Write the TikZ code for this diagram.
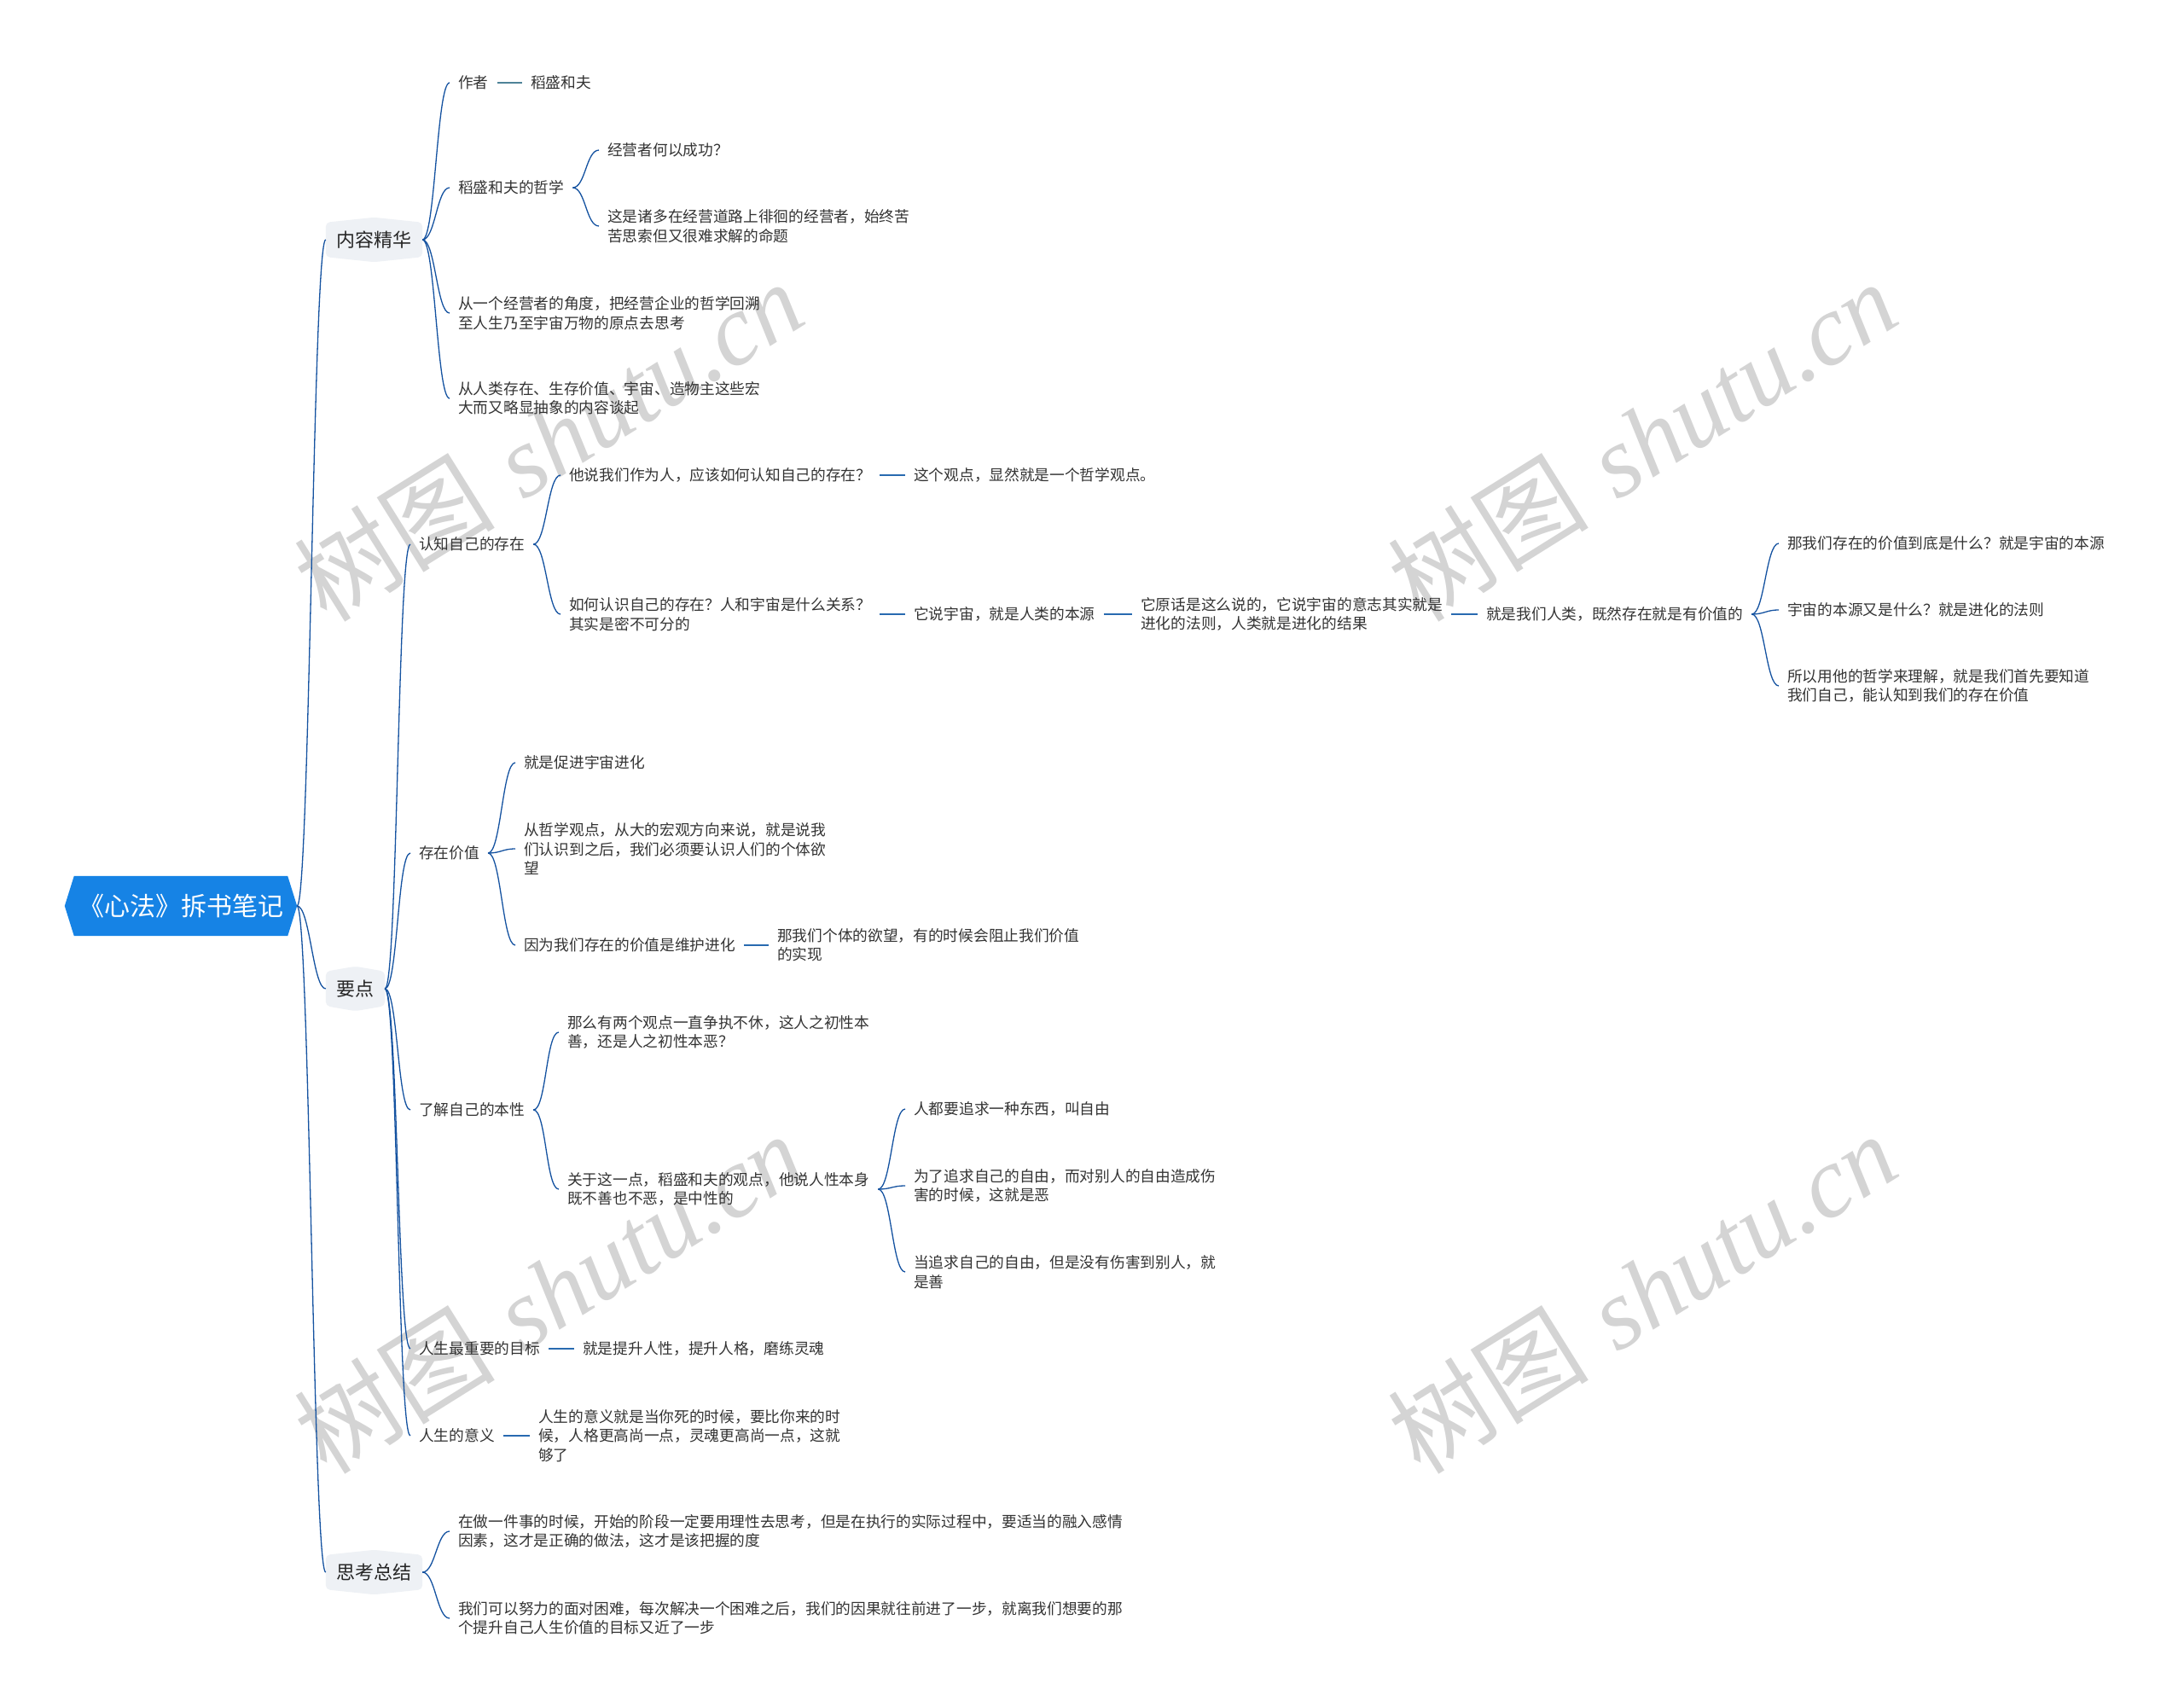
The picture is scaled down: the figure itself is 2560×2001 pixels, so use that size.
\documentclass[tikz,border=0pt]{standalone}
\usepackage{fontspec}
\setmainfont{Noto Sans CJK SC}
\newfontfamily\wmserif{Liberation Serif}
\usetikzlibrary{backgrounds}
\definecolor{rootblue}{RGB}{22,131,229}
\definecolor{hexgray}{RGB}{238,241,245}
\definecolor{linkblue}{RGB}{20,82,160}
\definecolor{barblue}{RGB}{40,106,176}
\definecolor{barteal}{RGB}{78,131,152}
\definecolor{txt}{HTML}{333333}
\definecolor{wm}{RGB}{212,212,212}
\newcommand\cv[2]{\draw[curve] (#1.east) .. controls +(15,0) and +(-15,0) .. (#2.west);}
\newcommand\st[2]{\draw[bar] (#1.east) -- (#2.west);}
\begin{document}
\begin{tikzpicture}[x=1pt,y=-1pt,
 leaf/.style={font=\fontsize{17.7}{22.5}\selectfont, text=txt, align=left, inner xsep=10pt, inner ysep=2pt, anchor=west},
 topic/.style={font=\fontsize{22}{26}\selectfont, text=black!85, inner sep=0pt, minimum height=40pt},
 rootnode/.style={font=\fontsize{30}{34}\selectfont, text=white, inner sep=0pt, minimum width=250pt, minimum height=70pt},
 curve/.style={draw=linkblue, line width=1.3pt},
 bar/.style={draw=barblue, line width=2.6pt},
 wmark/.style={text=wm, rotate=32, font=\fontsize{118}{122}\selectfont}
]
\useasboundingbox (0,0) rectangle (2560,2001);

% watermarks
\node[wmark] (w1) at (643,516) {树图\hspace{0.3em}{\wmserif\itshape shutu.cn}};
\node[wmark] (w2) at (1925,516) {树图\hspace{0.3em}{\wmserif\itshape shutu.cn}};
\node[wmark] (w3) at (643,1515) {树图\hspace{0.3em}{\wmserif\itshape shutu.cn}};
\node[wmark] (w4) at (1925,1515) {树图\hspace{0.3em}{\wmserif\itshape shutu.cn}};

% root and main topics
\node[rootnode] (root) at (212,1062) {《心法》拆书笔记};
\node[topic, minimum width=113pt] (k1) at (438.5,281) {内容精华};
\node[topic, minimum width=69pt] (k2) at (416.5,1159) {要点};
\node[topic, minimum width=113pt] (k3) at (438.5,1843) {思考总结};

% 内容精华
\node[leaf] (a1) at (527,97) {作者};
\node[leaf] (a1c) at (612,97) {稻盛和夫};
\node[leaf] (a2) at (527,220) {稻盛和夫的哲学};
\node[leaf] (a2a) at (702,176) {经营者何以成功？};
\node[leaf] (a2b) at (702,265) {这是诸多在经营道路上徘徊的经营者，始终苦\\苦思索但又很难求解的命题};
\node[leaf] (a3) at (527,367) {从一个经营者的角度，把经营企业的哲学回溯\\至人生乃至宇宙万物的原点去思考};
\node[leaf] (a4) at (527,467) {从人类存在、生存价值、宇宙、造物主这些宏\\大而又略显抽象的内容谈起};

% 要点
\node[leaf] (b1) at (481,638) {认知自己的存在};
\node[leaf] (b1a) at (657,557) {他说我们作为人，应该如何认知自己的存在？};
\node[leaf] (b1a1) at (1061,557) {这个观点，显然就是一个哲学观点。};
\node[leaf] (b1b) at (657,720) {如何认识自己的存在？人和宇宙是什么关系？\\其实是密不可分的};
\node[leaf] (b1b1) at (1061,720) {它说宇宙，就是人类的本源};
\node[leaf] (b1b2) at (1327,720) {它原话是这么说的，它说宇宙的意志其实就是\\进化的法则，人类就是进化的结果};
\node[leaf] (b1b3) at (1732,720) {就是我们人类，既然存在就是有价值的};
\node[leaf] (c1) at (2085,637) {那我们存在的价值到底是什么？就是宇宙的本源};
\node[leaf] (c2) at (2085,715) {宇宙的本源又是什么？就是进化的法则};
\node[leaf] (c3) at (2085,804) {所以用他的哲学来理解，就是我们首先要知道\\我们自己，能认知到我们的存在价值};

\node[leaf] (b2) at (481,1000) {存在价值};
\node[leaf] (b2a) at (604,894) {就是促进宇宙进化};
\node[leaf] (b2b) at (604,995) {从哲学观点，从大的宏观方向来说，就是说我\\们认识到之后，我们必须要认识人们的个体欲\\望};
\node[leaf] (b2c) at (604,1108) {因为我们存在的价值是维护进化};
\node[leaf] (b2c1) at (901,1108) {那我们个体的欲望，有的时候会阻止我们价值\\的实现};

\node[leaf] (b3) at (481,1301) {了解自己的本性};
\node[leaf] (b3a) at (655,1210) {那么有两个观点一直争执不休，这人之初性本\\善，还是人之初性本恶？};
\node[leaf] (b3b) at (655,1394) {关于这一点，稻盛和夫的观点，他说人性本身\\既不善也不恶，是中性的};
\node[leaf] (b3b1) at (1061,1300) {人都要追求一种东西，叫自由};
\node[leaf] (b3b2) at (1061,1390) {为了追求自己的自由，而对别人的自由造成伤\\害的时候，这就是恶};
\node[leaf] (b3b3) at (1061,1491) {当追求自己的自由，但是没有伤害到别人，就\\是善};

\node[leaf] (b4) at (481,1581) {人生最重要的目标};
\node[leaf] (b4a) at (673,1581) {就是提升人性，提升人格，磨练灵魂};
\node[leaf] (b5) at (481,1683) {人生的意义};
\node[leaf] (b5a) at (621,1683) {人生的意义就是当你死的时候，要比你来的时\\候，人格更高尚一点，灵魂更高尚一点，这就\\够了};

% 思考总结
\node[leaf] (d1) at (527,1795) {在做一件事的时候，开始的阶段一定要用理性去思考，但是在执行的实际过程中，要适当的融入感情\\因素，这才是正确的做法，这才是该把握的度};
\node[leaf] (d2) at (527,1897) {我们可以努力的面对困难，每次解决一个困难之后，我们的因果就往前进了一步，就离我们想要的那\\个提升自己人生价值的目标又近了一步};

% backgrounds of root and topics
\begin{scope}[on background layer]
\fill[white] (0,0) rectangle (2560,2001);
\fill[rootblue] (root.north west) -- (root.north east) -- ([xshift=11pt]root.east) -- (root.south east) -- (root.south west) -- ([xshift=-11pt]root.west) -- cycle;
\foreach \n in {k1,k2,k3}
  \fill[hexgray, rounded corners=5pt] (\n.south west) -- (\n.north west) -- ([yshift=6pt]\n.north) -- (\n.north east) -- (\n.south east) -- ([yshift=-6pt]\n.south) -- cycle;
\end{scope}

% connectors
\foreach \k in {k1,k2,k3}
  \draw[curve] ([xshift=11pt]root.east) .. controls +(15,0) and +(-15,0) .. (\k.west);
\cv{k1}{a1} \cv{k1}{a2} \cv{k1}{a3} \cv{k1}{a4}
\draw[bar, draw=barteal] (a1.east) -- (a1c.west);
\cv{a2}{a2a} \cv{a2}{a2b}
\cv{k2}{b1} \cv{k2}{b2} \cv{k2}{b3} \cv{k2}{b4} \cv{k2}{b5}
\cv{b1}{b1a} \cv{b1}{b1b}
\st{b1a}{b1a1} \st{b1b}{b1b1} \st{b1b1}{b1b2} \st{b1b2}{b1b3}
\cv{b1b3}{c1} \cv{b1b3}{c2} \cv{b1b3}{c3}
\cv{b2}{b2a} \cv{b2}{b2b} \cv{b2}{b2c}
\st{b2c}{b2c1}
\cv{b3}{b3a} \cv{b3}{b3b}
\cv{b3b}{b3b1} \cv{b3b}{b3b2} \cv{b3b}{b3b3}
\st{b4}{b4a} \st{b5}{b5a}
\cv{k3}{d1} \cv{k3}{d2}
\end{tikzpicture}
\end{document}
